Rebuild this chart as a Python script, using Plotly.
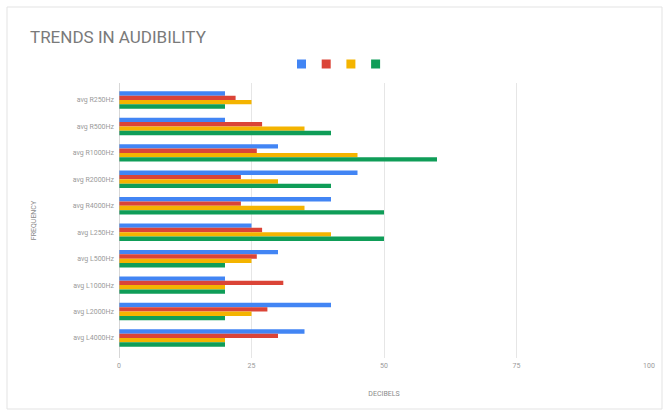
import plotly.graph_objects as go

# Frequency bands (top to bottom)
frequencies = ["avg R250Hz", "avg R500Hz", "avg R1000Hz", "avg R2000Hz", "avg R4000Hz",
               "avg L250Hz", "avg L500Hz", "avg L1000Hz", "avg L2000Hz", "avg L4000Hz"]

# Four series, average decibel levels per band
series_blue = [20, 20, 30, 45, 40, 25, 30, 20, 40, 35]
series_red = [22, 27, 26, 23, 23, 27, 26, 31, 28, 30]
series_yellow = [25, 35, 45, 30, 35, 40, 25, 20, 25, 20]
series_green = [20, 40, 60, 40, 50, 50, 20, 20, 20, 20]

colors = ["#4285F4", "#DB4437", "#F4B400", "#0F9D58"]
x_ticks = [0, 25, 50, 75, 100]

W, H = 667, 416
L, R, T, B = 119, 18, 83, 58

fig = go.Figure()
for vals, col in zip([series_blue, series_red, series_yellow, series_green], colors):
    fig.add_trace(go.Bar(y=frequencies, x=vals, orientation="h",
                         marker=dict(color=col, line=dict(width=0)),
                         showlegend=False))


def px_x(p):
    return (p - L) / (W - L - R)


def px_y(p):
    return (H - B - p) / (H - T - B)


shapes = [
    # card frame
    dict(type="rect", xref="paper", yref="paper",
         x0=px_x(7), x1=px_x(662), y0=px_y(409), y1=px_y(7),
         line=dict(color="#e3e3e3", width=1), fillcolor="rgba(0,0,0,0)", layer="below"),
]
# legend swatches
for i, col in enumerate(colors):
    cx = 301.5 + i * 24.7
    shapes.append(dict(type="rect", xref="paper", yref="paper",
                       x0=px_x(cx - 4.5), x1=px_x(cx + 4.5),
                       y0=px_y(68.5), y1=px_y(59.5),
                       line=dict(width=0), fillcolor=col))

n = len(frequencies)
fig.update_layout(
    width=W, height=H,
    margin=dict(l=L, r=R, t=T, b=B),
    paper_bgcolor="white", plot_bgcolor="white",
    barmode="group", bargap=0.34, bargroupgap=0,
    font=dict(family="Roboto, Arial, sans-serif", color="#8a8a8a", size=8),
    title=dict(text="TRENDS IN AUDIBILITY", x=30 / W, xref="container",
               xanchor="left", y=1 - 37 / H, yanchor="middle",
               font=dict(size=17, color="#7a7a7a", family="Roboto, Arial, sans-serif")),
    xaxis=dict(range=[0, 100], tickvals=x_ticks, ticktext=[str(v) for v in x_ticks],
               showgrid=True, gridcolor="#e6e6e6", gridwidth=1,
               zeroline=False, showline=False, ticks="", ticklabelstandoff=2,
               tickfont=dict(size=7, color="#9a9a9a"),
               title=dict(text="DECIBELS", font=dict(size=7, color="#8a8a8a"), standoff=22),
               fixedrange=True),
    yaxis=dict(range=[n - 0.5 + 0.256, -0.5 - 0.143], showgrid=False, zeroline=False,
               showline=False, ticks="", ticklabelstandoff=4,
               tickfont=dict(size=7, color="#9a9a9a"),
               title=dict(text="FREQUENCY", font=dict(size=7, color="#8a8a8a"), standoff=35)),
    shapes=shapes + [
        # axis baseline at zero
        dict(type="line", xref="x", yref="paper", x0=0, x1=0, y0=0, y1=1,
             line=dict(color="#b0b0b0", width=1)),
    ],
)

fig.write_html("out.html")
